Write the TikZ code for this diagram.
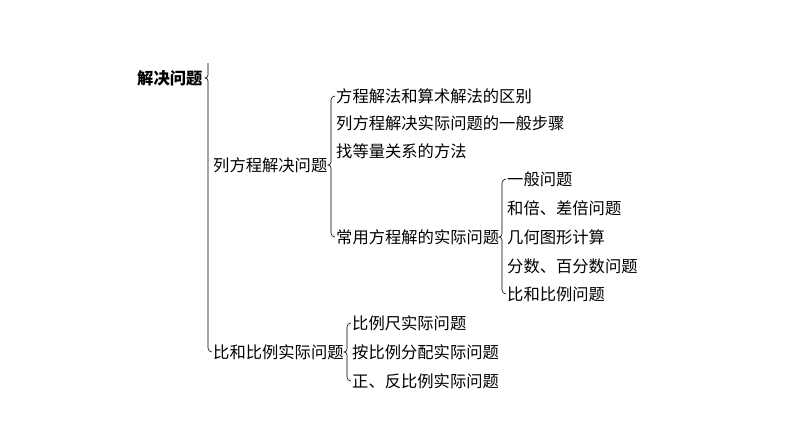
\documentclass[tikz,border=0pt]{standalone}
\usepackage{fontspec}
\setmainfont{Noto Sans CJK SC}
\usetikzlibrary{calc}

\newcommand{\kbrace}[3]{%
  \coordinate (kt) at ($(#2.west)+(-5pt,0)$);
  \coordinate (kb) at ($(#3.west)+(-5pt,0)$);
  \coordinate (kp) at (kt |- #1.east);
  \draw[bracket] ($(#2.west)+(-1pt,0)$) to[out=180,in=90] ($(kt)+(0,-4pt)$)
    -- ($(kp)+(0,3pt)$) to[out=-90,in=0] ($(kp)+(-3pt,0)$)
    to[out=0,in=90] ($(kp)+(0,-3pt)$) -- ($(kb)+(0,4pt)$)
    to[out=-90,in=180] ($(#3.west)+(-1pt,0)$);
}

\begin{document}
\begin{tikzpicture}[x=1pt,y=-1pt,
    item/.style={anchor=west,inner sep=0pt,font=\fontsize{16.3}{19}\selectfont},
    bracket/.style={line width=0.6pt,black}]
\useasboundingbox (0,0) rectangle (794,447);
\node[item,font=\fontsize{16.3}{19}\selectfont\bfseries] (root) at (137,78) {解决问题};
\node[item] (lfc) at (213,165) {列方程解决问题};
\node[item] (bhb) at (213,352) {比和比例实际问题};
% 列方程解决问题
\node[item] (a1) at (336,96) {方程解法和算术解法的区别};
\node[item] (a2) at (336,123) {列方程解决实际问题的一般步骤};
\node[item] (a3) at (336,151) {找等量关系的方法};
\node[item] (a4) at (336,237) {常用方程解的实际问题};
% 常用方程解的实际问题
\node[item] (c1) at (507,179) {一般问题};
\node[item] (c2) at (507,208) {和倍、差倍问题};
\node[item] (c3) at (507,237) {几何图形计算};
\node[item] (c4) at (507,266) {分数、百分数问题};
\node[item] (c5) at (507,294) {比和比例问题};
% 比和比例实际问题
\node[item] (b1) at (352,323) {比例尺实际问题};
\node[item] (b2) at (352,352) {按比例分配实际问题};
\node[item] (b3) at (352,381) {正、反比例实际问题};
% braces
\coordinate (kx) at ($(lfc.west)+(-5pt,0)$);
\coordinate (kr) at (kx |- root.east);
\coordinate (ktop) at ($(kr)+(0,15pt)$);
\draw[bracket] (ktop) -- ($(kr)+(0,3pt)$) to[out=-90,in=0] ($(kr)+(-3pt,0)$)
  to[out=0,in=90] ($(kr)+(0,-3pt)$) -- ($(kx |- bhb.west)+(0,4pt)$)
  to[out=-90,in=180] ($(bhb.west)+(-1pt,0)$);
\kbrace{lfc}{a1}{a4}
\kbrace{a4}{c1}{c5}
\kbrace{bhb}{b1}{b3}
\end{tikzpicture}
\end{document}
